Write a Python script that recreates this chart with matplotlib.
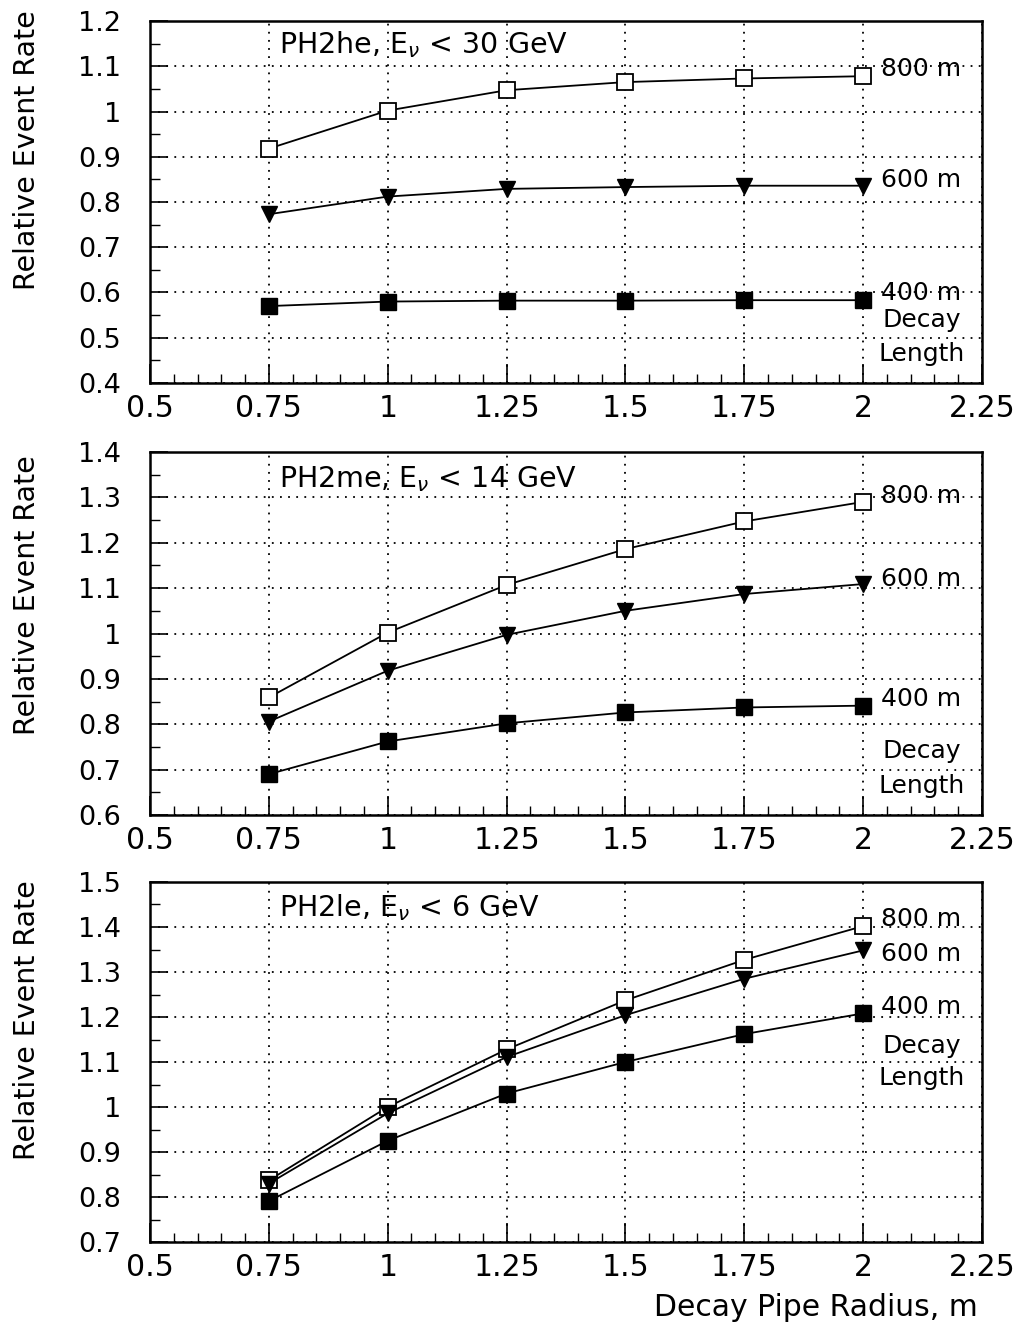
import matplotlib
matplotlib.use("Agg")
import matplotlib.pyplot as plt
from matplotlib.ticker import MultipleLocator, FuncFormatter

plt.rcParams['font.family'] = ['DejaVu Sans']
plt.rcParams['mathtext.fontset'] = 'dejavusans'

# Decay pipe radius (m)
radius = [0.75, 1.0, 1.25, 1.5, 1.75, 2.0]

# PH2he, E_nu < 30 GeV
he_800 = [0.918, 1.002, 1.047, 1.065, 1.073, 1.078]
he_600 = [0.773, 0.812, 0.829, 0.833, 0.836, 0.836]
he_400 = [0.570, 0.580, 0.582, 0.582, 0.583, 0.583]

# PH2me, E_nu < 14 GeV
me_800 = [0.859, 1.002, 1.107, 1.186, 1.247, 1.290]
me_600 = [0.806, 0.918, 0.997, 1.050, 1.087, 1.109]
me_400 = [0.690, 0.762, 0.802, 0.826, 0.837, 0.841]

# PH2le, E_nu < 6 GeV
le_800 = [0.837, 1.000, 1.128, 1.237, 1.327, 1.402]
le_600 = [0.830, 0.986, 1.111, 1.204, 1.285, 1.348]
le_400 = [0.791, 0.925, 1.030, 1.100, 1.162, 1.208]

titles = [r"PH2he, E$_{\nu}$ < 30 GeV",
          r"PH2me, E$_{\nu}$ < 14 GeV",
          r"PH2le, E$_{\nu}$ < 6 GeV"]
ylims = [(0.4, 1.2), (0.6, 1.4), (0.7, 1.5)]
series = [(he_800, he_600, he_400), (me_800, me_600, me_400), (le_800, le_600, le_400)]

# label positions (axes fraction, baseline) for each panel: 800, 600, 400, Decay, Length
label_y = [
    (0.848, 0.542, 0.229, 0.155, 0.062),
    (0.859, 0.631, 0.300, 0.157, 0.061),
    (0.878, 0.781, 0.633, 0.525, 0.436),
]
ylabel_top = [0.9925, 0.6566, 0.3358]

W, H = 1019, 1325
fig = plt.figure(figsize=(W / 100, H / 100), dpi=100)

# axes rectangles in pixels: (top, bottom)
panel_px = [(21, 383), (452, 815), (882, 1242)]
left_px, right_px = 150, 982


def fmt(v, pos):
    s = f"{v:.2f}".rstrip('0').rstrip('.')
    return s


for i in range(3):
    top, bot = panel_px[i]
    ax = fig.add_axes([left_px / W, 1 - bot / H, (right_px - left_px) / W, (bot - top) / H])
    ax.set_xlim(0.5, 2.25)
    ax.set_ylim(*ylims[i])
    ax.xaxis.set_major_locator(MultipleLocator(0.25))
    ax.xaxis.set_minor_locator(MultipleLocator(0.05))
    ax.yaxis.set_major_locator(MultipleLocator(0.1))
    ax.yaxis.set_minor_locator(MultipleLocator(0.05))
    ax.xaxis.set_major_formatter(FuncFormatter(fmt))
    ax.yaxis.set_major_formatter(FuncFormatter(fmt))

    ax.grid(True, which='major', color='black', linestyle=(0, (1, 3.5)), linewidth=1.3)
    ax.set_axisbelow(True)

    ax.tick_params(axis='x', which='major', direction='in', length=14, width=1.2,
                   labelsize=21.5, pad=8, top=False)
    ax.tick_params(axis='x', which='minor', direction='in', length=6.5, width=1.0, top=False)
    ax.tick_params(axis='y', which='major', direction='in', length=13, width=1.2,
                   labelsize=19.5, pad=21, right=False)
    ax.tick_params(axis='y', which='minor', direction='in', length=7, width=1.0, right=False)
    for sp in ax.spines.values():
        sp.set_linewidth(1.8)

    s800, s600, s400 = series[i]
    ax.plot(radius, s800, color='black', lw=1.3, marker='s', ms=11,
            mfc='white', mec='black', mew=1.3, zorder=3)
    ax.plot(radius, s600, color='black', lw=1.3, marker='v', ms=12,
            mfc='black', mec='black', zorder=3)
    ax.plot(radius, s400, color='black', lw=1.3, marker='s', ms=11,
            mfc='black', mec='black', zorder=3)

    ax.text(0.155, [0.912, 0.904, 0.904][i], titles[i], transform=ax.transAxes,
            ha='left', va='baseline', fontsize=20.5)

    names = ["800 m", "600 m", "400 m", "Decay", "Length"]
    for name, yy in zip(names, label_y[i]):
        ax.text(0.927, yy, name, transform=ax.transAxes, ha='center', va='baseline',
                fontsize=18)

    fig.text(0.0265, ylabel_top[i], "Relative Event Rate", rotation=90,
             ha='center', va='top', fontsize=20.5)

fig.text(978 / W, 1 - 1307 / H, "Decay Pipe Radius, m", ha='right', va='center', fontsize=21.5)

fig.savefig("out.png", dpi=100)
